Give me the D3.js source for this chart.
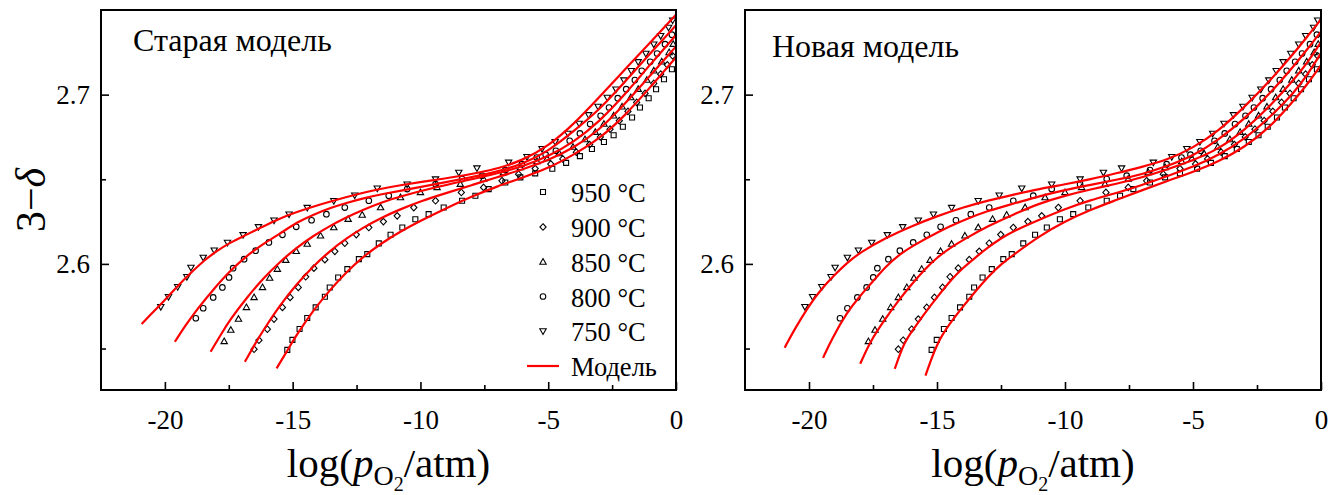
<!DOCTYPE html>
<html><head><meta charset="utf-8">
<script src="https://cdn.jsdelivr.net/npm/d3@7"></script>
<style>
body{margin:0;background:#fff}
svg text{font-family:"Liberation Serif","Times New Roman",serif;fill:#000}
</style>
</head><body>
<svg id="c" width="1341" height="495"></svg>
<script>
// ---------- data ----------
const temperatures = [950, 900, 850, 800, 750];
const panelTitles = ["Старая модель", "Новая модель"];
const xMajorTicks = [-20, -15, -10, -5, 0];
const xMinorTicks = [-17.5, -12.5, -7.5, -2.5];
const yMajorTicks = [2.6, 2.7];
const yMinorTicks = [2.55, 2.65];
const xDomain = [-22.5, 0];
const yDomain = [2.5255, 2.750];
const legendModelLabel = "Модель";

// measured points [log pO2, 3-delta]
const meas950 = [[-15.21,2.5492],[-15.01,2.5551],[-14.73,2.5615],[-14.43,2.5680],[-14.10,2.5743],[-13.74,2.5806],[-13.55,2.5861],[-13.22,2.5920],[-12.86,2.5969],[-12.41,2.6028],[-12.08,2.6058],[-11.63,2.6121],[-11.17,2.6172],[-10.71,2.6215],[-10.20,2.6264],[-9.68,2.6294],[-9.09,2.6333],[-8.37,2.6373],[-7.85,2.6403],[-7.33,2.6442],[-6.68,2.6481],[-6.09,2.6511],[-5.51,2.6535],[-4.84,2.6562],[-4.30,2.6597],[-3.76,2.6637],[-3.29,2.6679],[-2.82,2.6720],[-2.44,2.6760],[-2.08,2.6810],[-1.72,2.6865],[-1.41,2.6924],[-1.07,2.6979],[-0.78,2.7032],[-0.47,2.7091],[-0.16,2.7150]];
const meas900 = [[-16.51,2.5496],[-16.32,2.5549],[-15.99,2.5614],[-15.73,2.5674],[-15.40,2.5743],[-15.10,2.5802],[-14.78,2.5861],[-14.49,2.5924],[-14.17,2.5975],[-13.74,2.6025],[-13.35,2.6074],[-12.96,2.6122],[-12.51,2.6173],[-12.02,2.6215],[-11.45,2.6250],[-10.91,2.6284],[-10.26,2.6333],[-9.41,2.6373],[-8.40,2.6422],[-7.53,2.6452],[-6.81,2.6491],[-6.16,2.6530],[-5.51,2.6563],[-4.90,2.6590],[-4.43,2.6620],[-3.90,2.6660],[-3.38,2.6705],[-2.96,2.6750],[-2.58,2.6796],[-2.22,2.6846],[-1.88,2.6901],[-1.54,2.6954],[-1.21,2.7007],[-0.87,2.7066],[-0.60,2.7121],[-0.34,2.7176],[-0.13,2.7229]];
const meas850 = [[-17.68,2.5542],[-17.42,2.5609],[-17.12,2.5674],[-16.81,2.5743],[-16.51,2.5802],[-16.18,2.5861],[-15.90,2.5916],[-15.60,2.5969],[-15.27,2.6022],[-14.86,2.6074],[-14.43,2.6117],[-13.91,2.6166],[-13.39,2.6215],[-12.83,2.6264],[-12.28,2.6289],[-11.56,2.6333],[-10.78,2.6392],[-10.00,2.6422],[-9.35,2.6452],[-8.44,2.6471],[-7.53,2.6501],[-6.75,2.6540],[-6.09,2.6570],[-5.44,2.6605],[-5.04,2.6622],[-4.57,2.6652],[-4.03,2.6690],[-3.56,2.6735],[-3.16,2.6778],[-2.82,2.6826],[-2.44,2.6875],[-2.11,2.6928],[-1.77,2.6983],[-1.48,2.7032],[-1.14,2.7086],[-0.87,2.7141],[-0.56,2.7194],[-0.27,2.7249],[-0.11,2.7298]];
const meas800 = [[-18.79,2.5679],[-18.50,2.5738],[-18.11,2.5802],[-17.75,2.5861],[-17.49,2.5920],[-17.33,2.5975],[-16.90,2.6028],[-16.45,2.6078],[-15.93,2.6127],[-15.40,2.6172],[-14.86,2.6219],[-14.26,2.6258],[-13.68,2.6294],[-12.96,2.6333],[-12.02,2.6373],[-11.24,2.6403],[-10.52,2.6442],[-9.41,2.6471],[-8.37,2.6501],[-7.59,2.6521],[-6.68,2.6554],[-6.03,2.6589],[-5.45,2.6628],[-5.10,2.6645],[-4.70,2.6668],[-4.16,2.6727],[-3.76,2.6771],[-3.36,2.6826],[-2.95,2.6875],[-2.62,2.6924],[-2.28,2.6979],[-1.95,2.7032],[-1.61,2.7086],[-1.34,2.7141],[-1.01,2.7194],[-0.74,2.7243],[-0.43,2.7298],[-0.16,2.7354]];
const meas750 = [[-20.16,2.5747],[-19.86,2.5806],[-19.50,2.5865],[-19.14,2.5924],[-18.98,2.5979],[-18.50,2.6038],[-18.07,2.6081],[-17.55,2.6127],[-16.94,2.6172],[-16.34,2.6219],[-15.73,2.6258],[-15.14,2.6294],[-14.43,2.6333],[-13.39,2.6373],[-12.57,2.6406],[-11.69,2.6447],[-10.52,2.6471],[-9.41,2.6501],[-8.50,2.6540],[-7.79,2.6566],[-6.55,2.6600],[-5.83,2.6633],[-5.24,2.6681],[-4.73,2.6722],[-4.23,2.6771],[-3.79,2.6830],[-3.42,2.6881],[-3.05,2.6930],[-2.69,2.6983],[-2.35,2.7032],[-2.04,2.7086],[-1.75,2.7141],[-1.48,2.7194],[-1.18,2.7243],[-0.87,2.7298],[-0.60,2.7348],[-0.29,2.7397],[-0.13,2.7440]];

// old model curves
const oldModel950 = [[-15.63,2.5383],[-15.2,2.549],[-14.85,2.558],[-14.2,2.5725],[-13.54,2.5846],[-12.9,2.5952],[-12.24,2.6043],[-11.5,2.6125],[-10.8,2.619],[-10.0,2.6255],[-9.0,2.6328],[-8.0,2.6398],[-7.0,2.6458],[-6.0,2.651],[-5.0,2.6565],[-4.0,2.6645],[-3.0,2.6738],[-2.0,2.6875],[-1.0,2.7045],[0,2.722]];
const oldModel900 = [[-16.87,2.5422],[-16.5,2.552],[-16.15,2.5609],[-15.5,2.5755],[-14.85,2.588],[-14.2,2.5985],[-13.54,2.6078],[-12.9,2.615],[-12.24,2.6215],[-11.5,2.6275],[-10.8,2.6322],[-10.0,2.637],[-9.0,2.6418],[-8.0,2.6465],[-7.0,2.6512],[-6.0,2.6558],[-5.0,2.6612],[-4.0,2.6685],[-3.0,2.679],[-2.0,2.6945],[-1.0,2.7115],[0,2.7285]];
const oldModel850 = [[-18.21,2.5481],[-17.8,2.5585],[-17.46,2.5669],[-16.8,2.58],[-16.15,2.5915],[-15.5,2.6012],[-14.85,2.6095],[-14.2,2.6165],[-13.54,2.6225],[-12.9,2.6275],[-12.24,2.632],[-11.5,2.6365],[-10.8,2.6398],[-9.5,2.645],[-8.0,2.65],[-7.0,2.6535],[-6.0,2.6575],[-5.0,2.6635],[-4.0,2.672],[-3.0,2.684],[-2.0,2.7],[-1.0,2.718],[0,2.7352]];
const oldModel800 = [[-19.61,2.554],[-19.2,2.5635],[-18.76,2.5728],[-18.1,2.585],[-17.46,2.5958],[-16.8,2.6048],[-16.15,2.6118],[-15.5,2.6178],[-14.85,2.6245],[-14.2,2.629],[-13.54,2.633],[-12.9,2.636],[-12.24,2.6388],[-11.5,2.6412],[-10.8,2.6432],[-9.5,2.6468],[-8.0,2.6512],[-7.0,2.6545],[-6.0,2.659],[-5.0,2.6665],[-4.0,2.6785],[-3.0,2.691],[-2.0,2.7075],[-1.0,2.7245],[0,2.741]];
const oldModel750 = [[-20.91,2.5645],[-20.4,2.5725],[-20.07,2.5775],[-19.5,2.587],[-19.0,2.5945],[-18.43,2.6025],[-17.98,2.6075],[-17.46,2.6125],[-16.84,2.617],[-16.24,2.6215],[-15.66,2.6258],[-15.07,2.6295],[-14.35,2.6332],[-13.31,2.6378],[-12.47,2.6412],[-11.61,2.6442],[-10.8,2.6465],[-9.5,2.6495],[-8.45,2.6518],[-7.7,2.654],[-7.0,2.6562],[-6.0,2.6612],[-5.0,2.6695],[-4.0,2.6825],[-3.0,2.6985],[-2.0,2.7148],[-1.0,2.731],[0,2.7472]];

// new model curves
const newModel950 = [[-15.45,2.534],[-15.0,2.5535],[-14.5,2.5648],[-14.0,2.5745],[-13.5,2.5838],[-13.0,2.5925],[-12.5,2.5998],[-12.0,2.6055],[-11.0,2.6165],[-10.0,2.6252],[-9.0,2.632],[-8.0,2.6377],[-7.0,2.6435],[-6.0,2.649],[-5.0,2.6543],[-4.0,2.6605],[-3.0,2.6688],[-2.0,2.6805],[-1.0,2.6975],[-0.5,2.7068],[0,2.7175]];
const newModel900 = [[-16.65,2.538],[-16.3,2.553],[-16.0,2.5597],[-15.5,2.5705],[-15.0,2.5803],[-14.5,2.5898],[-14.0,2.5975],[-13.5,2.6038],[-13.0,2.6098],[-12.5,2.6152],[-12.0,2.6195],[-11.0,2.6262],[-10.0,2.6325],[-9.0,2.6377],[-8.0,2.6418],[-7.0,2.6465],[-6.0,2.652],[-5.0,2.6572],[-4.0,2.6642],[-3.0,2.6735],[-2.0,2.6865],[-1.0,2.702],[-0.5,2.7125],[0,2.7245]];
const newModel850 = [[-18.0,2.541],[-17.6,2.5545],[-17.0,2.568],[-16.5,2.5785],[-16.0,2.5878],[-15.5,2.5965],[-15.0,2.6038],[-14.5,2.6093],[-14.0,2.614],[-13.0,2.6225],[-12.0,2.6293],[-11.0,2.6358],[-10.0,2.6403],[-9.0,2.644],[-8.0,2.6473],[-7.0,2.651],[-6.0,2.6558],[-5.0,2.6612],[-4.0,2.6678],[-3.0,2.6788],[-2.0,2.693],[-1.0,2.7098],[-0.5,2.7195],[0,2.731]];
const newModel800 = [[-19.45,2.5445],[-19.1,2.556],[-18.5,2.5718],[-18.0,2.5812],[-17.5,2.5897],[-17.0,2.5985],[-16.5,2.6052],[-16.0,2.6102],[-15.0,2.6187],[-14.0,2.6257],[-13.0,2.6315],[-12.0,2.6356],[-11.0,2.64],[-10.0,2.6437],[-9.0,2.6467],[-8.0,2.6497],[-7.0,2.6528],[-6.0,2.6578],[-5.0,2.6638],[-4.0,2.6732],[-3.0,2.6855],[-2.0,2.7005],[-1.0,2.718],[-0.5,2.7275],[0,2.7372]];
const newModel750 = [[-20.95,2.5505],[-20.6,2.5605],[-20.0,2.5755],[-19.5,2.5855],[-19.0,2.5935],[-18.5,2.6008],[-18.0,2.6068],[-17.0,2.6155],[-16.0,2.6223],[-15.0,2.6282],[-14.0,2.6333],[-13.0,2.6375],[-12.0,2.641],[-11.0,2.6443],[-10.0,2.647],[-9.0,2.65],[-8.0,2.6535],[-7.0,2.6572],[-6.0,2.6615],[-5.0,2.6685],[-4.0,2.6785],[-3.0,2.6925],[-2.0,2.708],[-1.0,2.7255],[-0.5,2.735],[0,2.7444]];

const measured = [meas950, meas900, meas850, meas800, meas750];
const oldModel = [oldModel950, oldModel900, oldModel850, oldModel800, oldModel750];
const newModel = [newModel950, newModel900, newModel850, newModel800, newModel750];

// ---------- drawing ----------
const svg = d3.select("#c");
const TOP = 10, BOTTOM = 390;
const panels = [
  {title: panelTitles[0], left: 101, right: 676, curves: oldModel, tx: 133, ty: 51, legend: true},
  {title: panelTitles[1], left: 745, right: 1321, curves: newModel, tx: 772, ty: 57, legend: false}
];
const markerTypes = ["square", "diamond", "triUp", "circle", "triDown"];

function drawMarker(g, type, cx, cy) {
  let el;
  if (type === "circle") {
    el = g.append("circle").attr("cx", cx).attr("cy", cy).attr("r", 2.8);
  } else {
    let d;
    if (type === "square") d = "M-2.5,-2.5h5v5h-5z";
    else if (type === "diamond") d = "M0,-3.3L3.1,0L0,3.3L-3.1,0Z";
    else if (type === "triUp") d = "M0,-3.4L3.2,2.2L-3.2,2.2Z";
    else d = "M0,3.4L3.2,-2.2L-3.2,-2.2Z";
    el = g.append("path").attr("d", d).attr("transform", `translate(${cx},${cy})`);
  }
  el.attr("fill", "none").attr("stroke", "#000").attr("stroke-width", 1.1);
}

panels.forEach((p, pi) => {
  const x = d3.scaleLinear().domain(xDomain).range([p.left, p.right]);
  const y = d3.scaleLinear().domain(yDomain).range([BOTTOM, TOP]);
  const g = svg.append("g");

  const cid = "clip" + pi;
  svg.append("clipPath").attr("id", cid).append("rect")
    .attr("x", p.left).attr("y", TOP).attr("width", p.right - p.left).attr("height", BOTTOM - TOP);

  // measured points
  const pg = g.append("g").attr("clip-path", `url(#${cid})`);
  measured.forEach((series, si) => {
    series.forEach(d => drawMarker(pg, markerTypes[si], x(d[0]), y(d[1])));
  });

  // model curves
  const line = d3.line().x(d => x(d[0])).y(d => y(d[1])).curve(d3.curveBasis);
  const lg = g.append("g").attr("clip-path", `url(#${cid})`);
  p.curves.forEach(c => {
    lg.append("path").attr("d", line(c)).attr("fill", "none")
      .attr("stroke", "#ff0000").attr("stroke-width", 2.2).attr("stroke-linejoin", "round");
  });

  // axes
  const fmt = d => String(d);
  const xa = g.append("g").attr("transform", `translate(0,${BOTTOM})`)
    .call(d3.axisBottom(x).tickValues(xMajorTicks).tickFormat(fmt).tickSize(-8).tickSizeOuter(0).tickPadding(19.5));
  const xm = g.append("g").attr("transform", `translate(0,${BOTTOM})`)
    .call(d3.axisBottom(x).tickValues(xMinorTicks).tickFormat("").tickSize(-5).tickSizeOuter(0));
  const ya = g.append("g").attr("transform", `translate(${p.left},0)`)
    .call(d3.axisLeft(y).tickValues(yMajorTicks).tickFormat(d3.format(".1f")).tickSize(-8).tickSizeOuter(0).tickPadding(11));
  const ym = g.append("g").attr("transform", `translate(${p.left},0)`)
    .call(d3.axisLeft(y).tickValues(yMinorTicks).tickFormat("").tickSize(-5).tickSizeOuter(0));
  [xa, xm, ya, ym].forEach(a => {
    a.select(".domain").remove();
    a.selectAll(".tick line").attr("stroke", "#000").attr("stroke-width", 1.6);
    a.selectAll(".tick text").attr("font-size", 27)
      .attr("font-family", '"Liberation Serif","Times New Roman",serif').attr("fill", "#000");
  });

  // frame
  g.append("rect").attr("x", p.left).attr("y", TOP).attr("width", p.right - p.left)
    .attr("height", BOTTOM - TOP).attr("fill", "none").attr("stroke", "#000").attr("stroke-width", 2);

  // panel title
  g.append("text").attr("x", p.tx).attr("y", p.ty).attr("font-size", 32).text(p.title);

  // x-axis title
  const cx = (p.left + p.right) / 2;
  const t = g.append("text").attr("x", cx).attr("y", 477).attr("text-anchor", "middle").attr("font-size", 41);
  t.append("tspan").text("log(");
  t.append("tspan").attr("font-style", "italic").text("p");
  t.append("tspan").attr("font-size", 28).attr("dy", 8).text("O");
  t.append("tspan").attr("font-size", 20).attr("dy", 6).text("2");
  t.append("tspan").attr("font-size", 41).attr("dy", -14).text("/atm)");

  // legend
  if (p.legend) {
    const lgd = g.append("g");
    const rowY = [192, 227, 262, 296.5, 331, 366];
    temperatures.forEach((tmp, i) => {
      drawMarker(lgd, markerTypes[i], 543, rowY[i]);
      lgd.append("text").attr("x", 571).attr("y", rowY[i] + 10).attr("font-size", 26.5).text(`${tmp} °C`);
    });
    lgd.append("line").attr("x1", 527).attr("x2", 559).attr("y1", rowY[5]).attr("y2", rowY[5])
      .attr("stroke", "#ff0000").attr("stroke-width", 2.2);
    lgd.append("text").attr("x", 571).attr("y", rowY[5] + 10).attr("font-size", 26.5).text(legendModelLabel);
  }
});

// y-axis title
const yt = svg.append("text").attr("transform", "translate(45,200) rotate(-90)")
  .attr("text-anchor", "middle").attr("font-size", 42);
yt.append("tspan").text("3−");
yt.append("tspan").attr("font-style", "italic").text("δ");
</script>
</body></html>
